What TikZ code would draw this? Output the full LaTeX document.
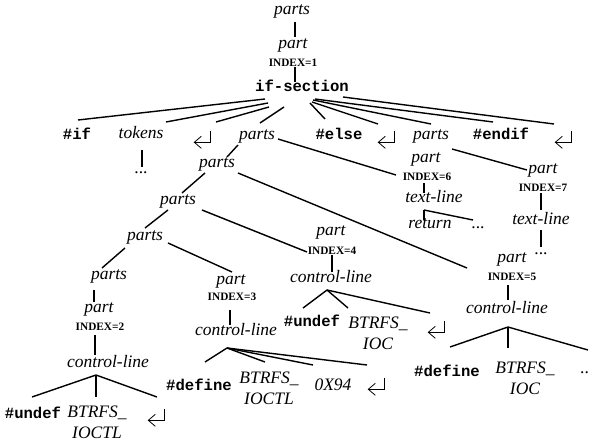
\documentclass[tikz,border=0pt]{standalone}
\usepackage{fontspec}
\setmainfont{Liberation Serif}
\setmonofont{Liberation Mono}
\usetikzlibrary{calc}
\begin{document}
\begin{tikzpicture}[x=1pt,y=-1pt,
  it/.style={font=\fontsize{17.5}{21}\selectfont\itshape, inner sep=0pt, text height=0.68em, text depth=0.2em},
  it2/.style={font=\fontsize{17.5}{21}\selectfont\itshape, inner sep=0pt, align=center},
  code/.style={font=\fontsize{15.6}{18}\selectfont\ttfamily\bfseries, inner sep=0pt, text height=0.6em, text depth=0pt},
  idx/.style={font=\fontsize{11.3}{13}\selectfont\bfseries, inner sep=0pt, text height=0.66em, text depth=0pt},
  ret/.style={inner sep=0pt, minimum width=17pt, minimum height=17pt},
  retline/.style={line width=0.8pt},
  dotsn/.style={font=\fontsize{17.5}{21}\selectfont, inner sep=0pt, text height=0.1em, text depth=0pt},
  edge/.style={line width=1.4pt}
]
\useasboundingbox (0,0) rectangle (589,444);

% top
\node[it] (p0) at (292,12) {parts};
\node[it] (p1) at (293,46) {part};
\node[idx] (i1) at (293,63) {INDEX=1};
\node[code] (ifs) at (302,89) {if-section};

% row 1
\node[code] (aif) at (77,136) {\#if};
\node[it] (atok) at (141,136) {tokens};
\node[ret] (aret1) at (203,140) {};
\node[it] (apar) at (257,137) {parts};
\node[code] (aelse) at (339,136) {\#else};
\node[ret] (aret2) at (387,140) {};
\node[it] (apar2) at (431,137) {parts};
\node[code] (aendif) at (501,136) {\#endif};
\node[ret] (aret3) at (564,140) {};

\node[dotsn] (d1) at (141,173) {...};

% parts chain
\node[it] (b1) at (217,165) {parts};
\node[it] (b2) at (178,202) {parts};
\node[it] (b3) at (145,238) {parts};
\node[it] (b4) at (109,277) {parts};

% part 2
\node[it] (p2) at (99,310) {part};
\node[idx] (i2) at (100,327) {INDEX=2};
\node[it] (cl2) at (108,365) {control-line};
\node[code] (u2) at (33,415) {\#undef};
\node[it2] (bt2) at (97,422) {BTRFS\_\\IOCTL};
\node[ret] (r2) at (157,418) {};

% part 3
\node[it] (p3) at (231,282) {part};
\node[idx] (i3) at (232,297) {INDEX=3};
\node[it] (cl3) at (236,333) {control-line};
\node[code] (u3) at (199,387) {\#define};
\node[it2] (bt3) at (269,388) {BTRFS\_\\IOCTL};
\node[it] (x3) at (333,388) {0X94};
\node[ret] (r3) at (377,387) {};

% part 4
\node[it] (p4) at (331,233) {part};
\node[idx] (i4) at (332,251) {INDEX=4};
\node[it] (cl4) at (331,280) {control-line};
\node[code] (u4) at (312,323) {\#undef};
\node[it2] (bt4) at (378,333) {BTRFS\_\\IOC};
\node[ret] (r4) at (437,330) {};

% part 5
\node[it] (p5) at (512,260) {part};
\node[idx] (i5) at (512,277) {INDEX=5};
\node[it] (cl5) at (507,311) {control-line};
\node[code] (u5) at (447,373) {\#define};
\node[it2] (bt5) at (525,378) {BTRFS\_\\IOC};
\node[dotsn, anchor=west] (d5) at (580,373) {..};

% part 6
\node[it] (p6) at (426,160) {part};
\node[idx] (i6) at (427,177) {INDEX=6};
\node[it] (tl6) at (434,200) {text-line};
\node[it] (rt6) at (430,226) {return};
\node[dotsn] (d6) at (478,228) {...};

% part 7
\node[it] (p7) at (543,171) {part};
\node[idx] (i7) at (543,188) {INDEX=7};
\node[it] (tl7) at (541,222) {text-line};
\node[dotsn] (d7) at (541,254) {...};

% return-arrow glyphs
\foreach \n in {aret1,aret2,aret3,r2,r3,r4} {
  \draw[retline] ($(\n.north east)+(-1,0)$) -- ($(\n.north east)+(-1,11)$) -- ($(\n.north west)+(0,11)$);
  \draw[retline] ($(\n.north west)+(7,5)$) -- ($(\n.north west)+(0,11)$) -- ($(\n.north west)+(7,17)$);
}

% edges
\draw[edge] ($(p0)+(3,10)$) -- ($(p1)+(2,-9)$);
\draw[edge] ($(i1)+(2,4)$) -- ($(ifs)+(-7,-7)$);

\draw[edge] ($(ifs)+(-37,10)$) -- ($(aif)+(1,-16)$);
\draw[edge] ($(ifs)+(-34,14)$) -- ($(atok)+(25,-14)$);
\draw[edge] ($(ifs)+(-33,18)$) -- ($(aret1)+(13,-18)$);
\draw[edge] ($(ifs)+(-18,18)$) -- ($(apar)+(3,-14)$);
\draw[edge] ($(ifs)+(8,14)$) -- ($(aelse)+(-14,-17)$);
\draw[edge] ($(ifs)+(10,13)$) -- ($(aret2)+(-9,-16)$);
\draw[edge] ($(ifs)+(11,11)$) -- ($(apar2)+(0,-13)$);
\draw[edge] ($(ifs)+(13,10)$) -- ($(aendif)+(-8,-14)$);
\draw[edge] ($(ifs)+(41,8)$) -- ($(aret3)+(-10,-16)$);

\draw[edge] ($(atok)+(1,14)$) -- ($(d1)+(1,-6)$);

\draw[edge] ($(apar)+(-19,8)$) -- ($(b1)+(10,-8)$);
\draw[edge] ($(apar)+(21,2)$) -- ($(i6)+(-31,-2)$);
\draw[edge] ($(apar2)+(21,12)$) -- ($(p7)+(-16,-1)$);

\draw[edge] ($(b1)+(-12,8)$) -- ($(b2)+(4,-9)$);
\draw[edge] ($(b1)+(21,8)$) -- ($(i5)+(-45,-9)$);
\draw[edge] ($(b2)+(-10,8)$) -- ($(b3)+(0,-10)$);
\draw[edge] ($(b2)+(24,8)$) -- ($(i4)+(-25,1)$);
\draw[edge] ($(b3)+(-20,10)$) -- ($(b4)+(-7,-9)$);
\draw[edge] ($(b3)+(23,5)$) -- ($(p3)+(1,-10)$);
\draw[edge] ($(b4)+(-15,13)$) -- ($(p2)+(-5,-8)$);

\draw[edge] ($(i2)+(-5,8)$) -- ($(cl2)+(-13,-10)$);
\draw[edge] ($(cl2)+(-12,10)$) -- ($(u2)+(-1,-18)$);
\draw[edge] ($(cl2)+(-12,10)$) -- ($(bt2)+(-1,-25)$);
\draw[edge] ($(cl2)+(-12,10)$) -- ($(r2)+(0,-21)$);

\draw[edge] ($(i3)+(-2,13)$) -- ($(cl3)+(-6,-8)$);
\draw[edge] ($(cl3)+(-9,15)$) -- ($(u3)+(6,-25)$);
\draw[edge] ($(cl3)+(-9,15)$) -- ($(bt3)+(-4,-26)$);
\draw[edge] ($(cl3)+(-9,15)$) -- ($(x3)+(-20,-23)$);
\draw[edge] ($(cl3)+(-9,15)$) -- ($(r3)+(-10,-22)$);

\draw[edge] ($(i4)+(0,4)$) -- ($(cl4)+(1,-8)$);
\draw[edge] ($(cl4)+(-4,10)$) -- ($(u4)+(-9,-15)$);
\draw[edge] ($(cl4)+(-4,10)$) -- ($(bt4)+(-30,-25)$);
\draw[edge] ($(cl4)+(-4,10)$) -- ($(r4)+(-7,-17)$);

\draw[edge] ($(i5)+(-4,8)$) -- ($(cl5)+(1,-11)$);
\draw[edge] ($(cl5)+(1,16)$) -- ($(u5)+(3,-26)$);
\draw[edge] ($(cl5)+(1,16)$) -- ($(bt5)+(-17,-30)$);
\draw[edge] ($(cl5)+(1,16)$) -- ($(d5.west)+(8,-23)$);

\draw[edge] ($(i6)+(-3,6)$) -- ($(tl6)+(-10,-7)$);
\draw[edge] ($(tl6)+(-10,10)$) -- ($(rt6)+(-6,-6)$);
\draw[edge] ($(tl6)+(-10,10)$) -- ($(d6)+(-5,-8)$);

\draw[edge] ($(i7)+(-2,5)$) -- ($(tl7)+(0,-12)$);
\draw[edge] ($(tl7)+(0,8)$) -- ($(d7)+(0,-7)$);
\end{tikzpicture}
\end{document}
